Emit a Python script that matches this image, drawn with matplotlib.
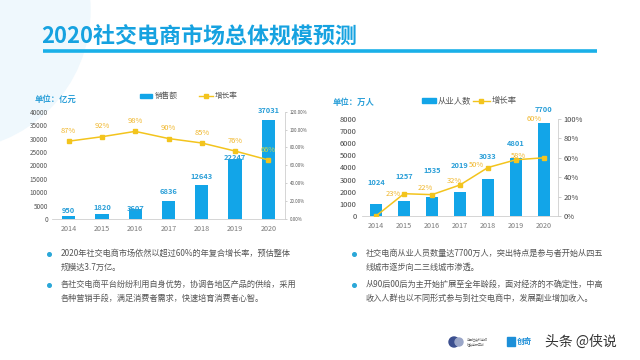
import matplotlib
matplotlib.use("Agg")
import matplotlib.pyplot as plt
from matplotlib.patches import Circle, Rectangle
from matplotlib.ticker import FuncFormatter, MultipleLocator

plt.rcParams['font.family'] = ['Noto Sans CJK SC', 'DejaVu Sans']

# ---------------- data ----------------
years = ["2014", "2015", "2016", "2017", "2018", "2019", "2020"]
sales = [950, 1820, 3607, 6836, 12643, 22247, 37031]          # 亿元
sales_growth = [87, 92, 98, 90, 85, 76, 66]                    # %
workers = [1024, 1257, 1535, 2019, 3033, 4801, 7700]           # 万人
workers_growth = [0, 23, 22, 32, 50, 58, 60]                   # %

title = "2020社交电商市场总体规模预测"
left_notes = ["2020年社交电商市场依然以超过60%的年复合增长率，预估整体\n规模达3.7万亿。",
              "各社交电商平台纷纷利用自身优势，协调各地区产品的供给，采用\n各种营销手段，满足消费者需求，快速培育消费者心智。"]
right_notes = ["社交电商从业人员数量达7700万人，突出特点是参与者开始从四五\n线城市逐步向二三线城市渗透。",
               "从90后00后为主开始扩展至全年龄段，面对经济的不确定性，中高\n收入人群也以不同形式参与到社交电商中，发展副业增加收入。"]

BLUE = "#12a5e8"
LBLUE = "#2a9fd8"
GOLD = "#f3c41d"
GOLDTXT = "#f0b62a"
GRAY = "#7a7a7a"

W, H = 640, 360
fig = plt.figure(figsize=(6.4, 3.6), dpi=100)
fig.patch.set_facecolor("white")

# background layer in pixel coordinates
bg = fig.add_axes([0, 0, 1, 1], zorder=0)
bg.set_xlim(0, W)
bg.set_ylim(H, 0)
bg.axis("off")
bg.add_patch(Circle((-50, 10), 140, color="#eff8fd", zorder=0))
bg.text(41, 36, title, fontsize=15.8, fontweight="bold", color="#16a2e0",
        va="center", ha="left")
bg.plot([43, 597], [51, 51], color="#1ab0e8", lw=2.6, solid_capstyle="butt")

# units
bg.text(35, 99, "单位：亿元", fontsize=6, color=LBLUE, fontweight="bold", va="center")
bg.text(333, 102, "单位：万人", fontsize=6, color=LBLUE, fontweight="bold", va="center")

# legends (drawn manually)
bg.add_patch(Rectangle((140, 94), 12, 4, color=BLUE))
bg.text(155, 96, "销售额", fontsize=5.5, color="#555555", va="center")
bg.plot([199, 213], [96, 96], color=GOLD, lw=1)
bg.plot([206], [96], marker="s", ms=2.5, color=GOLD)
bg.text(215, 96, "增长率", fontsize=5.5, color="#555555", va="center")

bg.add_patch(Rectangle((422, 98), 14, 5, color=BLUE))
bg.text(438, 100.5, "从业人数", fontsize=6, color="#555555", va="center")
bg.plot([473, 490], [100.5, 100.5], color=GOLD, lw=1)
bg.plot([481], [100.5], marker="s", ms=2.5, color=GOLD)
bg.text(492, 100.5, "增长率", fontsize=6, color="#555555", va="center")

# bullet notes
def notes(x, ys, texts):
    for y, t in zip(ys, texts):
        bg.plot([x], [y], marker="o", ms=2.6, color="#2aa7d8")
        bg.text(x + 12, y - 5, t, fontsize=5.9, color="#555555", va="top",
                ha="left", linespacing=1.75)

notes(49, [254, 285], left_notes)
notes(354, [254, 285], right_notes)

# footer logos
bg.add_patch(Circle((454, 342), 5, color="#3b4f8f"))
bg.add_patch(Circle((459, 342), 4, color="#9aa6c8"))
bg.text(467, 342, "中国社会科学院\n社会学研究所", fontsize=2.2, color="#666666", va="center")
bg.add_patch(Rectangle((507, 337), 8, 9, color="#1d8fd8"))
bg.text(517, 341.5, "创奇", fontsize=5.5, color="#1d8fd8", va="center", fontweight="bold")
bg.text(545, 342, "头条 @侠说", fontsize=10, color="#333333", va="center")

# ---------------- left chart ----------------
x = list(range(len(years)))
ax1 = fig.add_axes([52 / W, 1 - 219 / H, (285 - 52) / W, (219 - 111.7) / H], zorder=2)
ax1.patch.set_alpha(0)
ax1.bar(x, sales, width=0.4, color=BLUE, zorder=2)
ax1.set_xlim(-0.5, 6.5)
ax1.set_ylim(0, 40000)
ax1.yaxis.set_major_locator(MultipleLocator(5000))
ax1.set_xticks(x)
ax1.set_xticklabels(years)
ax1.tick_params(axis="x", length=0, labelsize=5.2, colors=GRAY, pad=4)
ax1.tick_params(axis="y", length=0, labelsize=4.6, colors="#555555", pad=3)
for s in ["left", "top", "right"]:
    ax1.spines[s].set_visible(False)
ax1.spines["bottom"].set_color("#cfcfcf")
ax1.spines["bottom"].set_linewidth(0.6)
sales_off = [2, 2, -2, 4, 4, -1, 4]
for xi, v, o in zip(x, sales, sales_off):
    ax1.annotate(str(v), (xi, v), xytext=(0, o), textcoords="offset points",
                 ha="center", va="bottom", fontsize=5.4, color=LBLUE, fontweight="bold")

ax1r = ax1.twinx()
ax1r.plot(x, [g / 100 for g in sales_growth], color=GOLD, lw=1.1, marker="s", ms=2.6, zorder=3)
ax1r.set_ylim(0, 1.2)
ax1r.yaxis.set_major_locator(MultipleLocator(0.2))
ax1r.yaxis.set_major_formatter(FuncFormatter(lambda v, p: f"{v * 100:.2f}%"))
ax1r.tick_params(axis="y", length=1.5, width=0.5, color="#bbbbbb", labelsize=3.2,
                 colors="#555555", pad=2)
for s in ["left", "top", "bottom"]:
    ax1r.spines[s].set_visible(False)
ax1r.spines["right"].set_color("#cfcfcf")
ax1r.spines["right"].set_linewidth(0.6)
for xi, g in zip(x, sales_growth):
    ax1r.annotate(f"{g}%", (xi, g / 100), xytext=(0, 4.5), textcoords="offset points",
                  ha="center", va="bottom", fontsize=5.4,
                  color=GOLDTXT if xi < 6 else "#c8d84a")

# ---------------- right chart ----------------
ax2 = fig.add_axes([362 / W, 1 - 216 / H, (558 - 362) / W, (216 - 119) / H], zorder=2)
ax2.patch.set_alpha(0)
ax2.bar(x, workers, width=0.44, color=BLUE, zorder=2)
ax2.set_xlim(-0.5, 6.5)
ax2.set_ylim(0, 8000)
ax2.yaxis.set_major_locator(MultipleLocator(1000))
ax2.set_xticks(x)
ax2.set_xticklabels(years)
ax2.tick_params(axis="x", length=0, labelsize=5.2, colors=GRAY, pad=4)
ax2.tick_params(axis="y", length=0, labelsize=5.4, colors="#444444", pad=4)
for s in ["left", "top", "right"]:
    ax2.spines[s].set_visible(False)
ax2.spines["bottom"].set_color("#cfcfcf")
ax2.spines["bottom"].set_linewidth(0.6)
work_off = [13, 15, 17, 16, 14, 8, 7]
for xi, v, o in zip(x, workers, work_off):
    ax2.annotate(str(v), (xi, v), xytext=(0, o), textcoords="offset points",
                 ha="center", va="bottom", fontsize=5.4, color=LBLUE, fontweight="bold")

ax2r = ax2.twinx()
ax2r.plot(x, [g / 100 for g in workers_growth], color=GOLD, lw=1.1, marker="s", ms=2.6, zorder=3)
ax2r.set_ylim(0, 1.0)
ax2r.yaxis.set_major_locator(MultipleLocator(0.2))
ax2r.yaxis.set_major_formatter(FuncFormatter(lambda v, p: f"{v * 100:.0f}%"))
ax2r.tick_params(axis="y", length=2, width=0.5, color="#bbbbbb", labelsize=5.4,
                 colors="#444444", pad=2)
for s in ["left", "top", "bottom"]:
    ax2r.spines[s].set_visible(False)
ax2r.spines["right"].set_color("#cfcfcf")
ax2r.spines["right"].set_linewidth(0.6)
wg_off = [None, (-8, 0), (-5, 5), (-4, 3), (-8, 2), (2, 3), (-7, 28)]
for xi, g, o in zip(x, workers_growth, wg_off):
    if o is None:
        continue
    ax2r.annotate(f"{g}%", (xi, g / 100), xytext=o, textcoords="offset points",
                  ha="center", va="center", fontsize=5.4, color=GOLDTXT)

fig.savefig("out.png", dpi=100)
